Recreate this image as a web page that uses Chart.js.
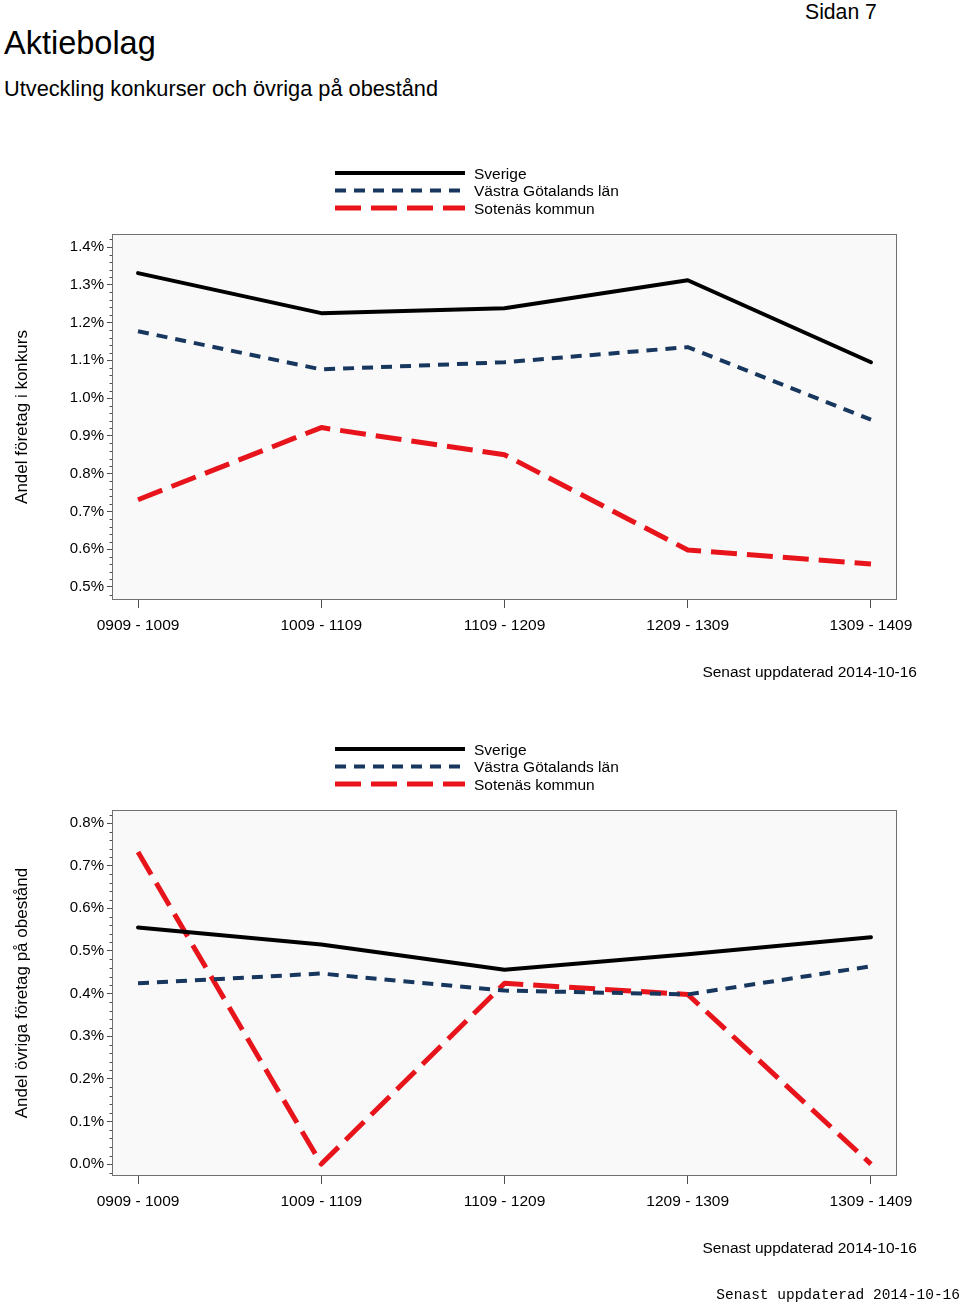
<!DOCTYPE html>
<html>
<head>
<meta charset="utf-8">
<script src="https://cdn.jsdelivr.net/npm/chart.js@4"></script>
<style>
  html, body { margin: 0; padding: 0; background: #fff; }
  body { width: 960px; height: 1306px; position: relative; overflow: hidden; font-family: 'Liberation Sans', Arial, sans-serif; color: #000; }
  .t { position: absolute; white-space: nowrap; line-height: 1; }
  canvas { position: absolute; left: 0; }
</style>
</head>
<body>
<div class="t" style="left:4px; top:27px; font-size:32.5px;">Aktiebolag</div>
<div class="t" style="left:4px; top:78px; font-size:21.75px;">Utveckling konkurser och övriga på obestånd</div>
<div class="t" style="left:805px; top:1px; font-size:21.2px;">Sidan 7</div>

<canvas id="c1" width="960" height="560" style="top:140px;"></canvas>
<div class="t" style="right:43px; top:664px; font-size:15.5px;">Senast uppdaterad 2014-10-16</div>

<canvas id="c2" width="960" height="560" style="top:720px;"></canvas>
<div class="t" style="right:43px; top:1240px; font-size:15.5px;">Senast uppdaterad 2014-10-16</div>

<div class="t" style="right:0px; top:1288px; font-size:14.5px; font-family:'Liberation Mono','Courier New',monospace;">Senast uppdaterad 2014-10-16</div>

<script>
// ---- Data ----
const categories = ['0909 - 1009', '1009 - 1109', '1109 - 1209', '1209 - 1309', '1309 - 1409'];
const seriesNames = ['Sverige', 'Västra Götalands län', 'Sotenäs kommun'];

const konkursSverige = [1.331, 1.225, 1.238, 1.312, 1.095];
const konkursVG      = [1.177, 1.076, 1.095, 1.135, 0.943];
const konkursSotenas = [0.731, 0.922, 0.850, 0.598, 0.561];

const obestandSverige = [0.555, 0.515, 0.456, 0.492, 0.532];
const obestandVG      = [0.424, 0.447, 0.407, 0.398, 0.464];
const obestandSotenas = [0.732, 0.000, 0.424, 0.398, 0.000];

const yTicksKonkurs  = [0.5, 0.6, 0.7, 0.8, 0.9, 1.0, 1.1, 1.2, 1.3, 1.4];
const yTicksObestand = [0.0, 0.1, 0.2, 0.3, 0.4, 0.5, 0.6, 0.7, 0.8];

// ---- Styles ----
const FONT = "'Liberation Sans', Arial, sans-serif";
const styles = [
  { borderColor: '#000000', borderWidth: 4, borderDash: [], borderCapStyle: 'round' },
  { borderColor: '#17375e', borderWidth: 4, borderDash: [11, 8], borderCapStyle: 'butt' },
  { borderColor: '#e8141b', borderWidth: 5, borderDash: [26, 10], borderCapStyle: 'butt' }
];

const framePlugin = {
  id: 'frame',
  beforeDraw(chart) {
    const { ctx, chartArea: a } = chart;
    ctx.save();
    ctx.fillStyle = '#f9f9f9';
    ctx.fillRect(a.left, a.top, a.right - a.left, a.bottom - a.top);
    ctx.restore();
  },
  beforeDatasetsDraw(chart) {
    const { ctx, chartArea: a } = chart;
    const y = chart.scales.y;
    ctx.save();
    ctx.strokeStyle = '#707070';
    ctx.lineWidth = 1;
    ctx.strokeRect(a.left + 0.5, a.top + 0.5, a.right - a.left - 1, a.bottom - a.top - 1);
    // minor ticks on y axis
    ctx.strokeStyle = '#505050';
    const step = 0.02;
    const start = Math.ceil(y.min / step - 1e-9);
    const end = Math.floor(y.max / step + 1e-9);
    for (let k = start; k <= end; k++) {
      if (k % 5 === 0) continue;
      const py = Math.round(y.getPixelForValue(k * step)) + 0.5;
      ctx.beginPath();
      ctx.moveTo(a.left - 2.5, py);
      ctx.lineTo(a.left, py);
      ctx.stroke();
    }
    ctx.restore();
  },
  afterDraw(chart) {
    const { ctx, chartArea: a } = chart;
    ctx.save();
    chart.data.datasets.forEach((ds, i) => {
      const ly = a.top - 61 + i * 17.5;
      ctx.beginPath();
      ctx.strokeStyle = ds.borderColor;
      ctx.lineWidth = ds.borderWidth;
      ctx.setLineDash(ds.borderDash || []);
      ctx.lineCap = 'butt';
      ctx.moveTo(335, ly);
      ctx.lineTo(465, ly);
      ctx.stroke();
      ctx.setLineDash([]);
      ctx.fillStyle = '#000';
      ctx.font = '15.5px ' + FONT;
      ctx.textBaseline = 'middle';
      ctx.textAlign = 'left';
      ctx.fillText(ds.label, 474, ly + 1.5);
    });
    ctx.restore();
  }
};

function makeChart(id, values, yTicks, yMin, yMax, yTitle, padTop, padBottom) {
  const datasets = values.map((arr, i) => Object.assign({
    label: seriesNames[i],
    data: arr.map((v, j) => ({ x: j, y: v })),
    tension: 0,
    pointRadius: 0,
    borderJoinStyle: 'round',
    fill: false
  }, styles[i]));
  return new Chart(document.getElementById(id), {
    type: 'line',
    data: { datasets },
    plugins: [framePlugin],
    options: {
      responsive: false,
      animation: false,
      devicePixelRatio: 1,
      layout: { padding: { top: padTop, bottom: padBottom, left: 0, right: 63 } },
      plugins: { legend: { display: false }, tooltip: { enabled: false } },
      scales: {
        x: {
          type: 'linear',
          min: -0.142,
          max: 4.142,
          afterBuildTicks(scale) { scale.ticks = categories.map((_, i) => ({ value: i })); },
          afterFit(scale) { scale.height = 40; },
          ticks: {
            callback: (v) => categories[v],
            color: '#000',
            font: { family: FONT, size: 15.5 },
            padding: 8,
            maxRotation: 0,
            autoSkip: false
          },
          grid: { drawOnChartArea: false, drawTicks: true, tickLength: 8, tickColor: '#505050', color: '#505050' },
          border: { display: false }
        },
        y: {
          type: 'linear',
          min: yMin,
          max: yMax,
          afterBuildTicks(scale) { scale.ticks = yTicks.map(v => ({ value: v })); },
          afterFit(scale) { scale.width = 112; },
          ticks: {
            callback: (v) => v.toFixed(1) + '%',
            color: '#000',
            font: { family: FONT, size: 15 },
            padding: 3,
            autoSkip: false
          },
          grid: { drawOnChartArea: false, drawTicks: true, tickLength: 5, tickColor: '#505050', color: '#505050' },
          border: { display: false },
          title: {
            display: true,
            text: yTitle,
            color: '#000',
            font: { family: FONT, size: 17 },
            padding: { top: 12, bottom: 0 }
          }
        }
      }
    }
  });
}

makeChart('c1', [konkursSverige, konkursVG, konkursSotenas], yTicksKonkurs,
  0.4655, 1.4345, 'Andel företag i konkurs', 94, 60);
makeChart('c2', [obestandSverige, obestandVG, obestandSotenas], yTicksObestand,
  -0.028, 0.8306, 'Andel övriga företag på obestånd', 90, 64);
</script>
</body>
</html>
